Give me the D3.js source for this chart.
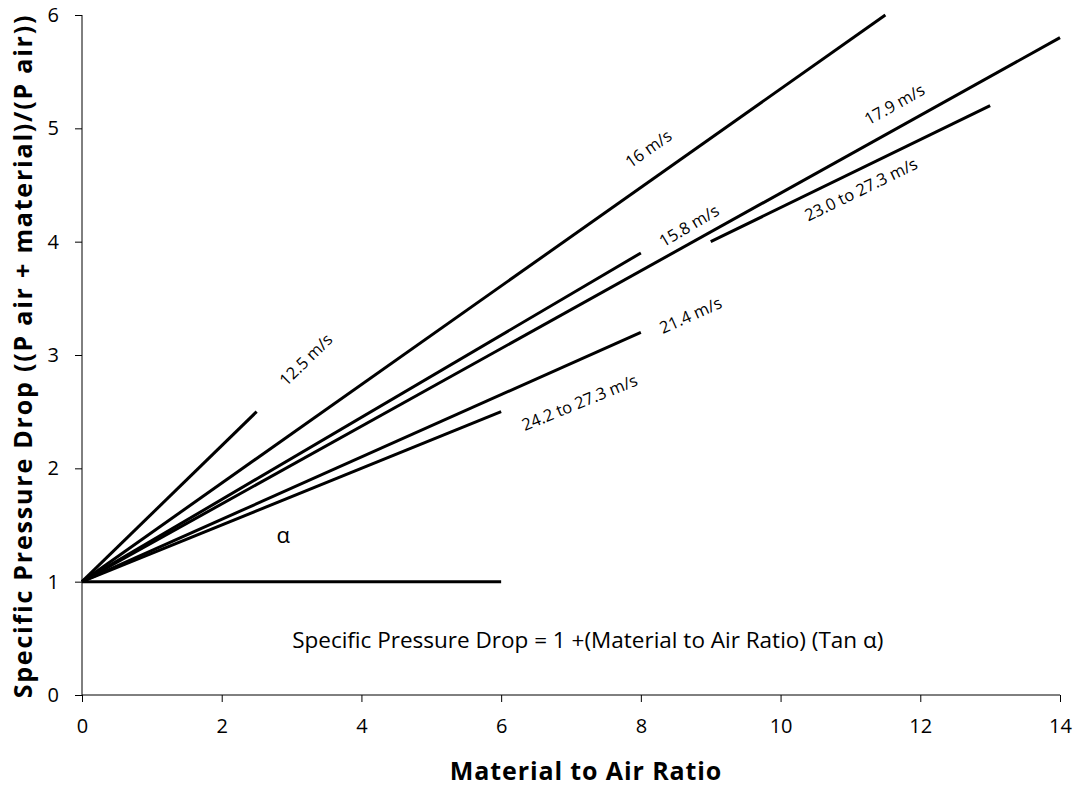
<!DOCTYPE html>
<html>
<head>
<meta charset="utf-8">
<script src="https://cdn.jsdelivr.net/npm/d3@7"></script>
<style>
  body { margin: 0; background: #fff; }
  svg text { font-family: "Open Sans", Lato, sans-serif; }
</style>
</head>
<body>
<div id="svgWrapper"></div>
<script>
"use strict"
// line segments, data units: [x0, y0, x1, y1]
var seriesNames = ["12.5 m/s", "16 m/s", "17.9 m/s", "15.8 m/s", "23.0 to 27.3 m/s", "21.4 m/s", "24.2 to 27.3 m/s", ""];
var startX = [0, 0, 0, 0, 9, 0, 0, 0];
var startY = [1, 1, 1, 1, 4.0, 1, 1, 1];
var endX = [2.5, 11.5, 14, 8, 13, 8, 6, 6];
var endY = [2.5, 6, 5.8, 3.9, 5.2, 3.2, 2.5, 1];
// where the labels sit, data units
var labelX = [3.22, 8.12, 11.64, 8.7, 11.16, 8.72, 7.13];
var labelY = [2.95, 4.81, 5.2, 4.13, 4.45, 3.34, 2.57];

var xTicks = [0, 2, 4, 6, 8, 10, 12, 14];
var yTicks = [0, 1, 2, 3, 4, 5, 6];

function draw() {
    var fullWidth = 1076;
    var fullHeight = 787;
    var left = 82, right = 1060, top = 15, bottom = 695;

    var svg = d3.select("#svgWrapper").append("svg")
        .attr("width", fullWidth).attr("height", fullHeight);

    var xScale = d3.scaleLinear().domain([0, 14]).range([left, right]);
    var yScale = d3.scaleLinear().domain([0, 6]).range([bottom, top]);

    var xAxis = d3.axisBottom(xScale).tickValues(xTicks).tickSize(7).tickPadding(17).tickFormat(d3.format("d"));
    var yAxis = d3.axisLeft(yScale).tickValues(yTicks).tickSize(7).tickPadding(16).tickFormat(d3.format("d"));

    var gx = svg.append("g").attr("transform", "translate(0," + bottom + ")").call(xAxis);
    var gy = svg.append("g").attr("transform", "translate(" + left + ",0)").call(yAxis);
    [gx, gy].forEach(function(g) {
        g.select(".domain").attr("stroke", "#000").attr("stroke-width", 1);
        g.selectAll(".tick line").attr("stroke", "#000").attr("stroke-width", 1);
        g.selectAll(".tick text").attr("font-size", 20).attr("fill", "#000")
            .style("font-family", "'Open Sans', sans-serif");
    });
    // remove outer tick stubs of domain
    gx.select(".domain").attr("d", "M" + left + ",0H" + right);
    gy.select(".domain").attr("d", "M0," + bottom + "V" + top);

    var segs = seriesNames.map(function(n, i) {
        return [[startX[i], startY[i]], [endX[i], endY[i]]];
    });
    var line = d3.line().x(function(d) { return xScale(d[0]); }).y(function(d) { return yScale(d[1]); });

    svg.append("g").selectAll("path").data(segs).enter().append("path")
        .attr("d", line)
        .attr("fill", "none")
        .attr("stroke", "#000")
        .attr("stroke-width", 3);

    // labels rotated along their line
    svg.append("g").selectAll("text").data(labelX).enter().append("text")
        .attr("text-anchor", "middle")
        .attr("dominant-baseline", "middle")
        .attr("font-size", 16.5)
        .attr("transform", function(d, i) {
            var dx = xScale(endX[i]) - xScale(startX[i]);
            var dy = yScale(endY[i]) - yScale(startY[i]);
            var ang = Math.atan2(dy, dx) * 180 / Math.PI;
            return "translate(" + xScale(d) + "," + yScale(labelY[i]) + ") rotate(" + ang + ")";
        })
        .text(function(d, i) { return seriesNames[i]; });

    svg.append("text")
        .attr("x", xScale(2.88)).attr("y", yScale(1.39))
        .attr("text-anchor", "middle").attr("dominant-baseline", "middle")
        .attr("font-size", 22)
        .text("α");

    svg.append("text")
        .attr("x", xScale(7.24)).attr("y", yScale(0.47))
        .attr("text-anchor", "middle").attr("dominant-baseline", "middle")
        .attr("font-size", 22.5)
        .text("Specific Pressure Drop = 1 +(Material to Air Ratio) (Tan α)");

    svg.append("text")
        .attr("x", 586).attr("y", 773)
        .attr("text-anchor", "middle").attr("dominant-baseline", "middle")
        .attr("font-size", 25).attr("font-weight", "bold")
        .attr("letter-spacing", 0.9)
        .text("Material to Air Ratio");

    svg.append("text")
        .attr("transform", "translate(25,356) rotate(-90)")
        .attr("text-anchor", "middle").attr("dominant-baseline", "middle")
        .attr("font-size", 25).attr("font-weight", "bold")
        .attr("letter-spacing", 1.8)
        .text("Specific Pressure Drop ((P air + material)/(P air))");
}

window.onload = draw;
</script>
</body>
</html>
